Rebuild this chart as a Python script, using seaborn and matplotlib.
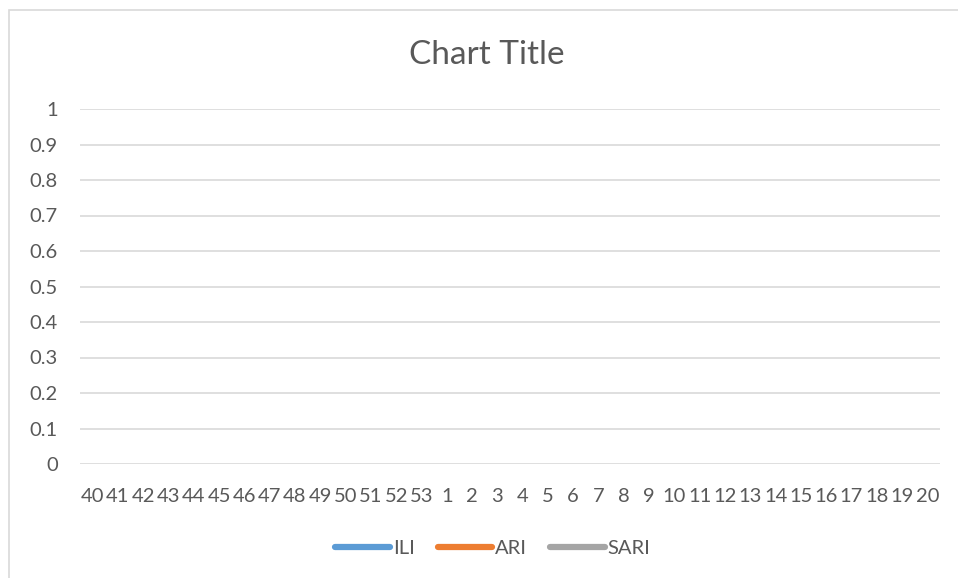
import numpy as np
import matplotlib
matplotlib.use("Agg")
import matplotlib.pyplot as plt
import seaborn as sns
from matplotlib.patches import Rectangle

# weeks 40-53 then 1-20, series are empty in the source chart
weeks = [str(w) for w in range(40, 54)] + [str(w) for w in range(1, 21)]
series_names = ["ILI", "ARI", "SARI"]
series_colors = ["#5b9bd5", "#ed7d31", "#a5a5a5"]
ili = [np.nan] * len(weeks)
ari = [np.nan] * len(weeks)
sari = [np.nan] * len(weeks)
y_ticks = [0, 0.1, 0.2, 0.3, 0.4, 0.5, 0.6, 0.7, 0.8, 0.9, 1]

sns.set_style("white")
plt.rcParams["font.family"] = ["Lato", "DejaVu Sans"]

fig = plt.figure(figsize=(9.58, 5.78), dpi=100)
ax = fig.add_axes([80 / 958, 1 - 464 / 578, 860 / 958, 355 / 578])

x = np.arange(len(weeks))
for name, vals, col in zip(series_names, [ili, ari, sari], series_colors):
    ax.plot(x, vals, color=col, lw=4.5, label=name, solid_capstyle="round")

ax.set_xlim(-0.5, len(weeks) - 0.5)
ax.set_ylim(0, 1)
ax.set_yticks(y_ticks)
ax.set_yticklabels([f"{t:g}" for t in y_ticks])
ax.set_xticks(x)
ax.set_xticklabels(weeks)
ax.yaxis.grid(True, color="#d9d9d9", lw=1.2)
ax.xaxis.grid(False)
for s in ax.spines.values():
    s.set_visible(False)
ax.tick_params(axis="both", length=0, labelsize=14.5, labelcolor="#595959")
ax.tick_params(axis="x", pad=17)
ax.tick_params(axis="y", pad=16)

fig.text(0.5 + 8 / 958, 1 - 55 / 578, "Chart Title", ha="center", va="center",
         fontsize=24, color="#595959")

leg = fig.legend(loc="center", bbox_to_anchor=(493 / 958, 1 - 548 / 578), ncol=3,
                 frameon=False, fontsize=14.5, handlelength=2.7,
                 handletextpad=0.15, columnspacing=1.15)
for t in leg.get_texts():
    t.set_color("#595959")

fig.patches.append(Rectangle((9 / 958, -0.01), 1.0, 1 - 10 / 578 + 0.01,
                             transform=fig.transFigure, fill=False,
                             edgecolor="#d9d9d9", lw=1.2))

fig.savefig("out.png", dpi=100)
